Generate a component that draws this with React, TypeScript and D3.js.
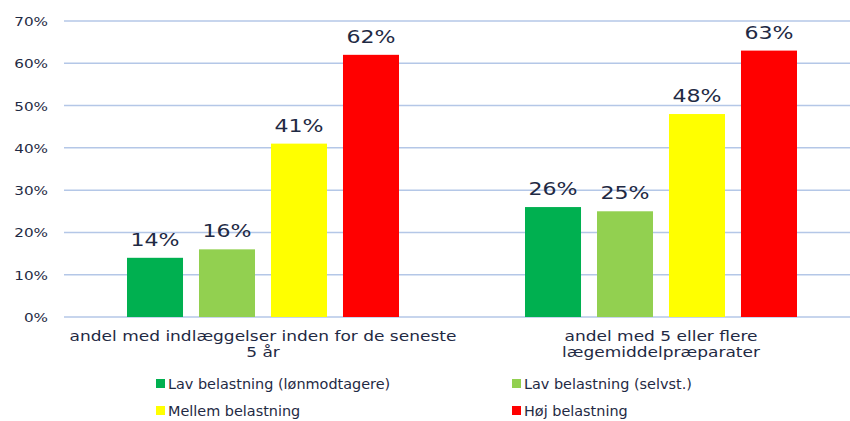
import React, { useRef, useEffect } from 'react';
import * as d3 from 'd3';

const categories = [
  ['andel med indlæggelser inden for de seneste', '5 år'],
  ['andel med 5 eller flere', 'lægemiddelpræparater'],
];
const seriesNames = [
  'Lav belastning (lønmodtagere)',
  'Lav belastning (selvst.)',
  'Mellem belastning',
  'Høj belastning',
];
const seriesColors = ['#00b050', '#92d050', '#ffff00', '#ff0000'];
const lavLon = [14, 26];
const lavSelv = [16, 25];
const mellem = [41, 48];
const hoj = [62, 63];
const yTicks = [0, 10, 20, 30, 40, 50, 60, 70];

const width = 850;
const height = 421;
const textColor = '#1f2a44';
const font = '"DejaVu Sans", sans-serif';

const App: React.FC = () => {
  const ref = useRef<SVGSVGElement | null>(null);

  useEffect(() => {
    if (!ref.current) return;
    const svg = d3.select(ref.current);
    svg.selectAll('*').remove();

    const values = [lavLon, lavSelv, mellem, hoj];
    const left = 64;
    const right = 860;
    const top = 21;
    const bottom = 317;

    const y = d3.scaleLinear().domain([0, 70]).range([bottom, top]);
    const x0 = d3
      .scaleBand<number>()
      .domain(categories.map((_, i) => i))
      .range([left, right]);
    const x1 = d3
      .scaleBand<number>()
      .domain(seriesNames.map((_, i) => i))
      .range([0, x0.bandwidth()])
      .paddingInner(0.222)
      .paddingOuter(0.875);

    // wide-looking text: draw at origin, then translate + stretch horizontally
    const label = (
      x: number,
      yy: number,
      txt: string,
      size: number,
      sx: number,
      anchor: string
    ) =>
      svg
        .append('text')
        .attr('transform', `translate(${x},${yy}) scale(${sx},1)`)
        .attr('text-anchor', anchor)
        .attr('font-family', font)
        .attr('font-size', size)
        .attr('fill', textColor)
        .text(txt);

    // grid
    svg
      .append('g')
      .selectAll('line')
      .data(yTicks)
      .join('line')
      .attr('x1', left)
      .attr('x2', right)
      .attr('y1', d => y(d))
      .attr('y2', d => y(d))
      .attr('stroke', '#b4c7e7')
      .attr('stroke-width', 1.5);

    yTicks.forEach(t => label(48, y(t) + 5, `${t}%`, 13, 1.17, 'end'));

    // bars
    values.forEach((vals, s) => {
      svg
        .append('g')
        .selectAll('rect')
        .data(vals)
        .join('rect')
        .attr('x', (_, i) => (x0(i) as number) + (x1(s) as number))
        .attr('y', d => y(d))
        .attr('width', x1.bandwidth())
        .attr('height', d => y(0) - y(d))
        .attr('fill', seriesColors[s]);
      vals.forEach((v, i) => {
        const cx = (x0(i) as number) + (x1(s) as number) + x1.bandwidth() / 2;
        label(cx, y(v) - 12, `${v}%`, 17, 1.3, 'middle');
      });
    });

    // category labels
    categories.forEach((lines, i) => {
      const cx = (x0(i) as number) + x0.bandwidth() / 2;
      lines.forEach((l, j) => label(cx, 341 + j * 16, l, 13.5, 1.26, 'middle'));
    });

    // legend
    const legendX = [156, 512];
    const legendY = [384, 411];
    seriesNames.forEach((name, i) => {
      const lx = legendX[i % 2];
      const ly = legendY[Math.floor(i / 2)];
      svg
        .append('rect')
        .attr('x', lx)
        .attr('y', ly - 5)
        .attr('width', 9)
        .attr('height', 9)
        .attr('fill', seriesColors[i]);
      label(lx + 12, ly + 5, name, 14, 1.03, 'start');
    });
  }, []);

  return (
    <svg
      ref={ref}
      width={width}
      height={height}
      style={{ position: 'absolute', left: 0, top: 0, background: '#fff' }}
    />
  );
};

export default App;
